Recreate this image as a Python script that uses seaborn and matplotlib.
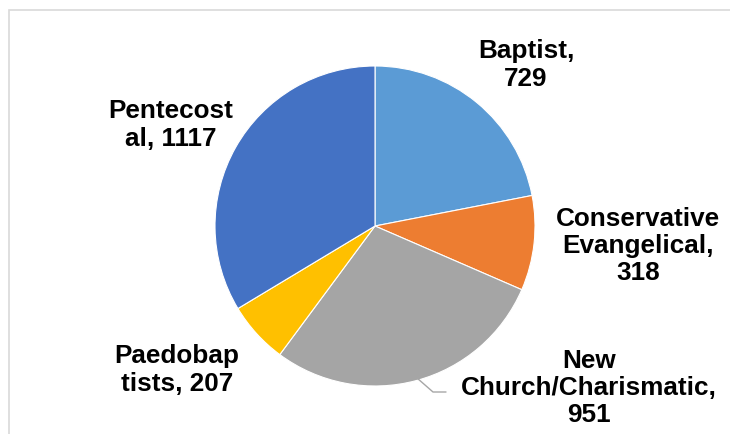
import matplotlib
matplotlib.use("Agg")
import matplotlib.pyplot as plt
import matplotlib.patches as mpatches
import seaborn as sns

categories = ["Baptist", "Conservative Evangelical", "New Church/Charismatic", "Paedobaptists", "Pentecostal"]
values = [729, 318, 951, 207, 1117]
label_texts = ["Baptist,\n729", "Conservative\nEvangelical,\n318", "New\nChurch/Charismatic,\n951",
               "Paedobap\ntists, 207", "Pentecost\nal, 1117"]
colors = ["#5B9BD5", "#ED7D31", "#A5A5A5", "#FFC000", "#4472C4"]

sns.set_theme(style="white")
plt.rcParams['font.family'] = ['Liberation Sans', 'DejaVu Sans']

W, H = 730, 434
fig = plt.figure(figsize=(W / 100, H / 100), dpi=100)
fig.patch.set_facecolor("white")
ax = fig.add_axes([0, 0, 1, 1])

cx, cy, r = 375, H - 226, 160
ax.pie(values, colors=colors, startangle=90, counterclock=False,
       center=(cx, cy), radius=r,
       wedgeprops=dict(edgecolor="white", linewidth=0.8))
ax.set_xlim(0, W)
ax.set_ylim(0, H)
ax.set_aspect("equal")
ax.axis("off")

# chart frame
fig.patches.append(mpatches.Rectangle((9 / W, -0.1), 1.2, (H - 10) / H + 0.1,
                                      transform=fig.transFigure, fill=False,
                                      edgecolor="#D9D9D9", linewidth=1.2))

label_pos = [(526, 65), (638, 246), (589, 388), (177, 370), (171, 125)]
for txt, (x, y) in zip(label_texts, label_pos):
    ax.text(x, H - y, txt, ha="center", va="center", fontsize=18.8,
            fontweight="bold", color="#000000", linespacing=1.18)

# leader line for New Church/Charismatic
ax.plot([417, 433, 446], [H - 378, H - 392, H - 392], color="#A6A6A6", linewidth=1)

fig.savefig("out.png", dpi=100)
